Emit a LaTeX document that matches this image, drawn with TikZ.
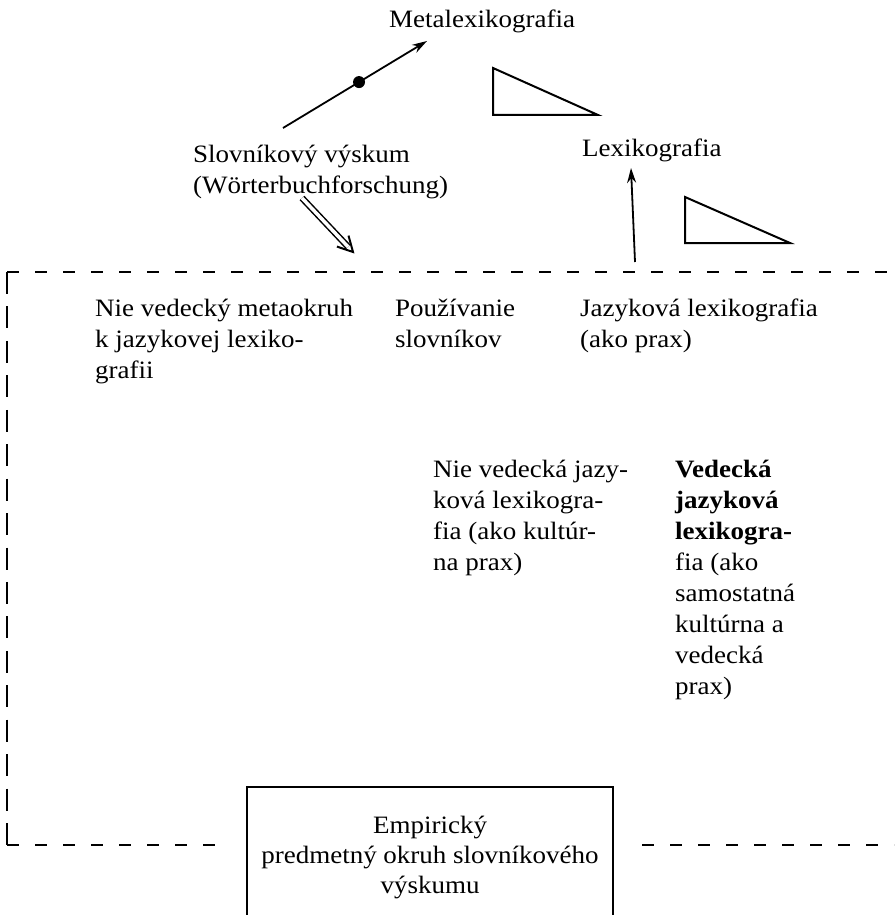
\documentclass[tikz,border=0pt]{standalone}
\usepackage{fontspec}
\setmainfont{Liberation Serif}[FakeStretch=1.08]
\usetikzlibrary{arrows.meta,calc}
\begin{document}
\begin{tikzpicture}[x=1pt, y=-1pt,
  txt/.style={inner sep=0pt, anchor=base west, align=left, font=\fontsize{25}{31}\selectfont},
  ctxt/.style={inner sep=0pt, anchor=base, align=center, font=\fontsize{25}{30}\selectfont},
  ln/.style={line width=2pt},
  arr/.style={line width=1.8pt, -{Stealth[length=15pt,width=9pt]}},
  dbl/.style={line width=1.5pt, double distance=3.5pt},
  vdash/.style={line width=2.2pt, dash pattern=on 22pt off 12.44pt},
  hdash/.style={line width=2.2pt, dash pattern=on 12pt off 16pt}]
\useasboundingbox (0,0) rectangle (894,915);

% texts (anchor = baseline of the last line)
\node[txt] (meta) at (389,28) {Metalexikografia};
\node[txt] (slov) at (193,193) {Slovníkový výskum\\(Wörterbuchforschung)};
\node[txt] (lex) at (582,156) {Lexikografia};
\node[txt] (meta2) at (95,378) {Nie vedecký metaokruh\\k jazykovej lexiko-\\grafii};
\node[txt] (pouz) at (395,347) {Používanie\\slovníkov};
\node[txt] (jaz) at (580,347) {Jazyková lexikografia\\(ako prax)};
\node[txt] (nvjl) at (433,570) {Nie vedecká jazy-\\ková lexikogra-\\fia (ako kultúr-\\na prax)};
\node[txt] (vjl) at (675,694) {\bfseries Vedecká\\\bfseries jazyková\\\bfseries lexikogra-\\fia (ako\\samostatná\\kultúrna a\\vedecká\\prax)};
\node[ctxt] (emp) at (430,893) {Empirický\\predmetný okruh slovníkového\\výskumu};

% connector end points
\coordinate (s1) at (283,128);
\coordinate (m1) at (427,41);
\coordinate (l0) at (635,262);
\coordinate (l1) at (631,168);
\coordinate (d0) at (302,198);
\coordinate (d1) at (353,252);

\draw[arr] (s1) -- (m1) coordinate[pos=0.528] (dot);
\fill (dot) circle (6pt);
\draw[arr] (l0) -- (l1);
% double arrow with open head
\draw[dbl] (d0) -- ($(d1)!7pt!(d0)$);
\draw[line width=2pt, line join=miter] ($(d1)!17pt!28:(d0)$) -- (d1) -- ($(d1)!17pt!-28:(d0)$);

% triangles
\draw[ln, line join=miter] (493,68) -- (493,115) -- (598,115) -- cycle;
\draw[ln, line join=miter] (685,197) -- (685,243) -- (790,243) -- cycle;

% dashed frame
\coordinate (ftl) at (7,272);
\coordinate (fbl) at (7,845);
\coordinate (ftr) at (894,272);
\coordinate (fb1) at (215,845);
\coordinate (fb2) at (642,845);
\coordinate (fbr) at (894,845);
\draw[vdash] (ftl) -- (fbl);
\draw[hdash] (ftl) -- (ftr);
\draw[hdash] (fbl) -- (fb1);
\draw[hdash] (fb2) -- (fbr);

% box of the empirical domain (open at the bottom)
\draw[ln] (247,915) -- (247,787) -- (613,787) -- (613,915);
\end{tikzpicture}
\end{document}
